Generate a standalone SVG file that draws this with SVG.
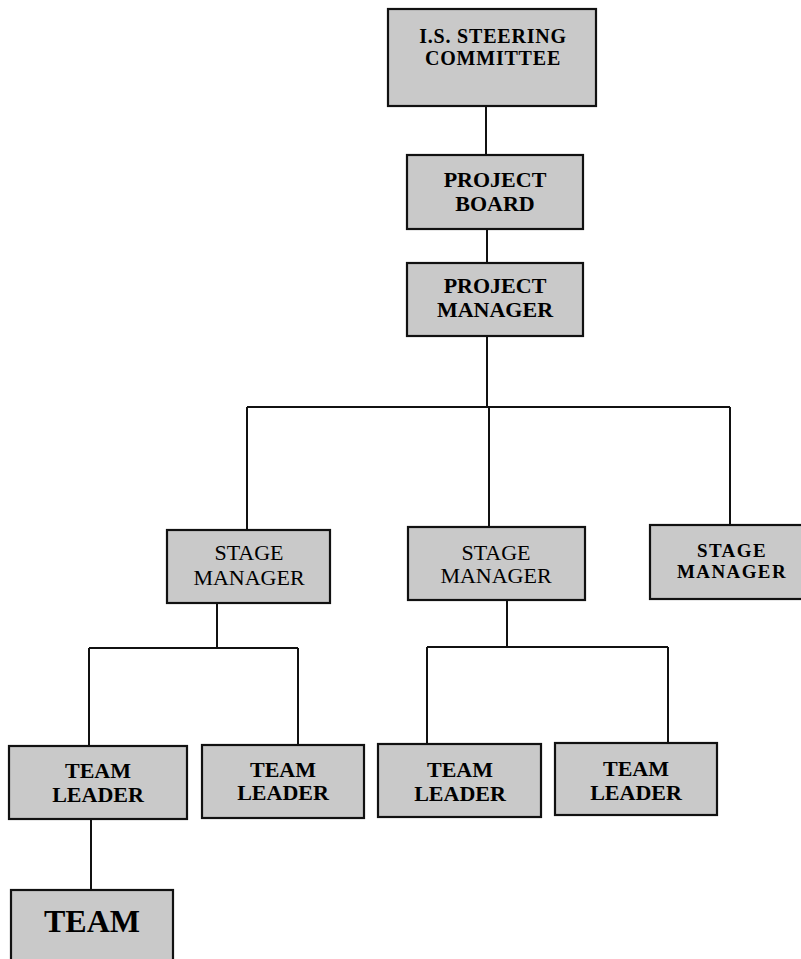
<svg xmlns="http://www.w3.org/2000/svg" width="801" height="959" viewBox="0 0 801 959">
<style>
.box{fill:#c9c9c9;stroke:#111;stroke-width:2.2}
.t{font-family:"Liberation Serif","Times New Roman",serif;font-size:22px;font-weight:bold;fill:#000;text-anchor:middle}
.r{font-weight:normal}
.big{font-size:32px}
.s20{font-size:20px;letter-spacing:0.8px}
.s19{font-size:19px;letter-spacing:1.4px}
.c{stroke:#111;stroke-width:2;fill:none}
</style>
<rect width="801" height="959" fill="#fff"/>
<g id="connectors">
<path class="c" d="M486 106V155M487 229V263M487 336V407M247 407H730M247 407V530M489 407V527M730 407V525"/>
<path class="c" d="M217 603V648M89 648H298M89 648V746M298 648V745"/>
<path class="c" d="M507 600V647M427 647H668M427 647V744M668 647V743"/>
<path class="c" d="M91 819V890"/>
</g>
<g id="steering">
<rect class="box" x="388" y="9" width="208" height="97"/>
<text class="t s20" x="493" y="43">I.S. STEERING</text>
<text class="t s20" x="493" y="65">COMMITTEE</text>
</g>
<g id="project-board">
<rect class="box" x="407" y="155" width="176" height="74"/>
<text class="t" x="495" y="187">PROJECT</text>
<text class="t" x="495" y="211">BOARD</text>
</g>
<g id="project-manager">
<rect class="box" x="407" y="263" width="176" height="73"/>
<text class="t" x="495" y="293">PROJECT</text>
<text class="t" x="495" y="317">MANAGER</text>
</g>
<g id="stage-manager-1">
<rect class="box" x="167" y="530" width="163" height="73"/>
<text class="t r" x="249" y="560">STAGE</text>
<text class="t r" x="249" y="585">MANAGER</text>
</g>
<g id="stage-manager-2">
<rect class="box" x="408" y="527" width="177" height="73"/>
<text class="t r" x="496" y="560">STAGE</text>
<text class="t r" x="496" y="583">MANAGER</text>
</g>
<g id="stage-manager-3">
<rect class="box" x="650" y="525" width="155" height="74"/>
<text class="t s19" x="732" y="557">STAGE</text>
<text class="t s19" x="732" y="578">MANAGER</text>
</g>
<g id="team-leader-1">
<rect class="box" x="9" y="746" width="178" height="73"/>
<text class="t" x="98" y="778">TEAM</text>
<text class="t" x="98" y="802">LEADER</text>
</g>
<g id="team-leader-2">
<rect class="box" x="202" y="745" width="162" height="73"/>
<text class="t" x="283" y="777">TEAM</text>
<text class="t" x="283" y="800">LEADER</text>
</g>
<g id="team-leader-3">
<rect class="box" x="378" y="744" width="163" height="73"/>
<text class="t" x="460" y="777">TEAM</text>
<text class="t" x="460" y="801">LEADER</text>
</g>
<g id="team-leader-4">
<rect class="box" x="555" y="743" width="162" height="72"/>
<text class="t" x="636" y="776">TEAM</text>
<text class="t" x="636" y="800">LEADER</text>
</g>
<g id="team">
<rect class="box" x="11" y="890" width="162" height="80"/>
<text class="t big" x="92" y="932">TEAM</text>
</g>
</svg>
